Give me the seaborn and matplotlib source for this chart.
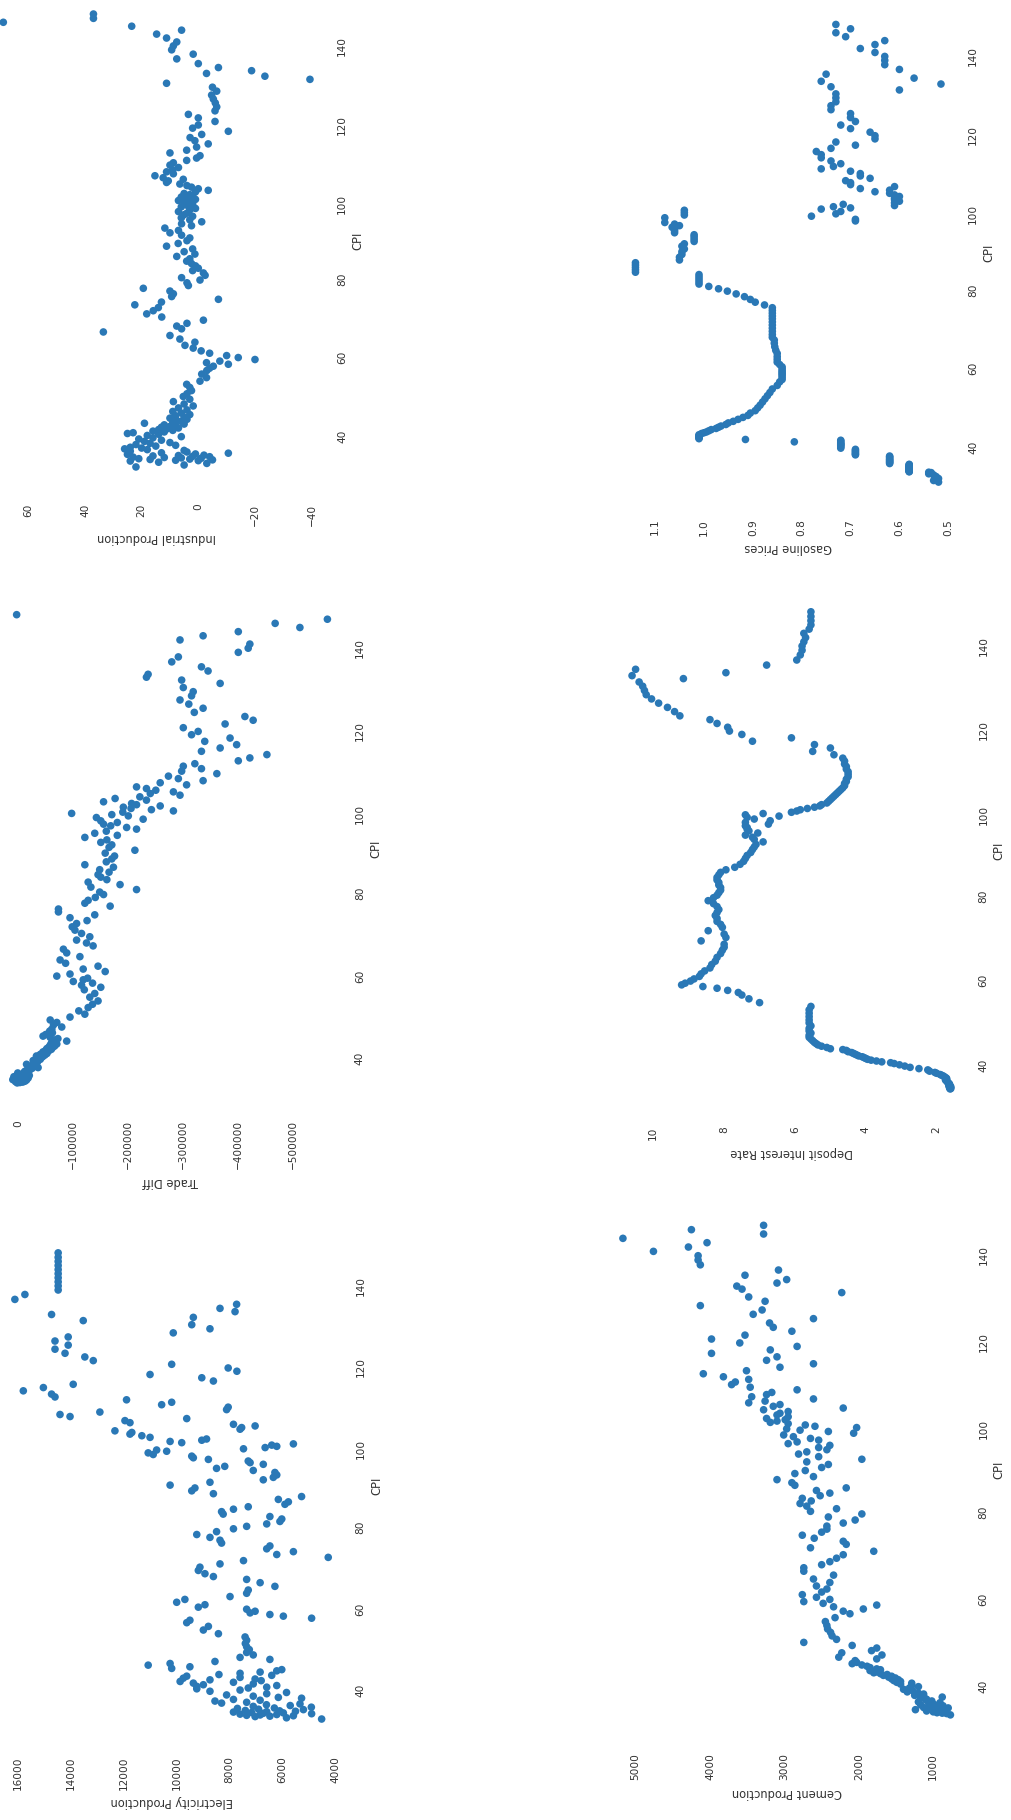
import matplotlib
matplotlib.use("Agg")
import matplotlib.pyplot as plt
import pandas as pd
import seaborn as sns

NA = float("nan")

# ---------------------------------------------------------------------------
# Monthly macro indicators against the consumer price index
# (NA marks months where a series was not yet reported)
# ---------------------------------------------------------------------------
cpi = [
    30.6, 31.0, 31.5, 32.0, 32.4, 32.7, 33.0, 33.1, 33.2, 33.3,
    33.4, 33.5, 33.6, 33.7, 33.8, 33.9, 34.0, 34.1, 34.2, 34.3,
    34.4, 34.5, 34.7, 34.8, 35.0, 35.1, 35.3, 35.5, 35.7, 35.9,
    36.1,
    36.3, 36.5, 36.8, 37.0, 37.2, 37.5, 37.7, 38.0, 38.3, 38.6,
    38.9, 39.2, 39.5, 39.8,
    40.0, 40.2, 40.4, 40.6, 40.8, 41.0, 41.2, 41.4, 41.6, 41.8,
    42.0, 42.2, 42.4, 42.6, 42.9, 43.1, 43.3, 43.6, 43.9, 44.2,
    44.5, 44.8,
    45.2, 45.6, 46.0, 46.5, 47.0, 47.5, 48.1, 48.7, 49.4, 50.1,
    50.9, 51.7, 52.5, 53.3, 54.2, 55.1,
    56.0, 56.6, 57.1, 57.6, 58.0, 58.4, 58.8, 59.3, 59.8, 60.4,
    61.0, 61.7, 62.4, 63.2, 64.0, 64.9,
    65.8, 66.6, 67.3, 68.0, 68.8, 69.6, 70.4, 71.2, 72.0, 72.7,
    73.4, 74.1, 74.8, 75.5,
    76.2, 76.9, 77.6, 78.3, 79.0, 79.6, 80.2, 80.8, 81.4, 82.0,
    82.6, 83.2, 83.8, 84.4, 85.0, 85.6, 86.2, 86.9, 87.6, 88.3,
    89.0, 89.7,
    90.4, 91.0, 91.6, 92.2, 92.8, 93.3, 93.8, 94.3, 94.8, 95.2,
    95.6, 96.0, 96.4, 96.8, 97.2, 97.6, 98.0, 98.3, 98.6, 98.9,
    99.2, 99.5, 99.8, 100.1, 100.4, 100.7,
    101.0, 101.4, 101.8, 102.2, 102.6, 103.0, 103.4, 103.8, 104.2, 104.6,
    105.0, 105.5, 106.0, 106.5, 107.0, 107.6, 108.2, 108.8, 109.4, 110.0,
    110.6, 111.3,
    112.0, 112.8, 113.6, 114.4, 115.2, 116.0, 116.8, 117.6, 118.4, 119.3,
    120.2, 121.1,
    122.0, 123.0, 124.0, 125.0, 126.0, 127.0, 128.0, 129.0, 130.0, 130.8,
    131.5, 132.2, 133.0, 134.0,
    135.2, 136.4, 137.5, 138.5, 139.5, 140.5, 141.5, 142.5, 143.5, 144.5,
    145.5, 146.6,
]

industrial_production = [
    NA, NA, 22, 5, -3, 14, 24, 0, 8, -5,
    17, 3, 21, -1, 6, 12, 23, -4, 2, 16,
    7, -2, 25, 1, -10.6, 13, 4, 24, 5, 18,
    26,
    20, 24, 15, 8, 22, 17, 10, 19, 13, 21,
    16, 6, 18, 14,
    25, 23, 12, 16, 9, 14, 11, 7, 13, 10,
    8, 12, 5, 19, 9, 6, 7.6, 4, 10, 5,
    8, 3,
    6, 9, 4, 7, 1.8, 5, 8.8, 3, 5.3, 4,
    2.4, 3, 4.1, -0.6, -2.9, -1.2,
    -3, -4, -5.3, -10.6, -2.9, -7.6, -20, -14.1, -10, -4,
    -1, 1.8, 4.7, 1.2, 6.5, 10,
    33.5, 5.9, 7.6, 4, -1.8, 12.9, 18.2, 15.9, 14.1, 22.4,
    13, -7.1, 9.4, 8.8,
    10, 19.4, 3.5, 4, -0.6, 5.9, -2.4, -1.8, 2, 0,
    1, 2.4, 4.1, 3, 7.6, 1.2, 5, 2, 11.2, 7.1,
    4, 3,
    5.9, 10, 7, 11.8, 2.4, 5.9, -1.2, 3, 6, 2,
    5, 4, 7, 3, 1, 6, 4, 2, 5, 3,
    7, 1, 4, 6, 2, 3,
    5, 1, -3.5, 0, 2.4, 4, 6.5, 11.2, 10.6, 5.3,
    12.4, 15.3, 8.8, 11.2, 9, 7, 10, 8.8, 4.1, 0.6,
    -0.6, 10,
    4.1, 0.6, -3.5, 1.2, 2.9, -1.2, -10.6, 2, 0, -5.9,
    0, 3.5,
    -5.9, -6.5, -6, -5.3, -4.7, -6.5, -5, 11.2, -39.4, -23.5,
    -2.9, -18.8, -7.1, 0,
    7.6, 1.8, 9.4, 8.8, 7.6, 11.2, 14.7, 5.9, 23.5, 68.8,
    37, 37,
]

gasoline_prices = [
    0.52, 0.53, 0.52, 0.525, 0.53, 0.54, 0.535, 0.54, 0.58, 0.58,
    0.58, 0.58, 0.58, 0.58, 0.58, 0.58, 0.58, 0.58, 0.58, 0.58,
    0.58, 0.58, 0.58, 0.58, 0.58, 0.58, 0.62, 0.62, 0.62, 0.62,
    0.62,
    0.62, 0.62, 0.62, 0.62, 0.62, 0.69, 0.69, 0.69, 0.69, 0.69,
    0.69, 0.72, 0.72, 0.72,
    0.72, 0.72, 0.72, 0.72, 0.815, 0.72, 0.72, 0.915, 1.01, 1.01,
    1.01, 1.01, 1.01, 1.01, 1.005, 1.00, 0.995, 0.99, 0.985, 0.975,
    0.97, 0.965,
    0.955, 0.95, 0.94, 0.93, 0.92, 0.91, 0.905, 0.895, 0.89, 0.885,
    0.88, 0.875, 0.87, 0.865, 0.86, 0.85,
    0.845, 0.84, 0.84, 0.84, 0.84, 0.84, 0.84, 0.84, 0.84, 0.845,
    0.85, 0.85, 0.85, 0.85, 0.853, 0.855,
    0.856, 0.856, 0.86, 0.86, 0.86, 0.86, 0.86, 0.86, 0.86, 0.86,
    0.86, 0.86, 0.86, 0.876,
    0.895, 0.905, 0.917, 0.934, 0.952, 0.97, 0.99, 1.01, 1.01, 1.01,
    1.01, 1.01, 1.14, 1.14, 1.14, 1.14, 1.14, 1.05, 1.05, 1.045,
    1.045, 1.04,
    1.045, 1.04, 1.02, 1.02, 1.02, 1.02, 1.06, 1.06, 1.06, 1.065,
    1.05, 1.06, 1.08, 0.69, 0.69, 1.08, 0.78, 1.04, 0.73, 1.04,
    0.72, 1.04, 0.76, 0.70, 0.735, 0.61,
    0.715, 0.61, 0.60, 0.61, 0.61, 0.60, 0.61, 0.62, 0.65, 0.62,
    0.68, 0.61, 0.70, 0.70, 0.71, 0.66, 0.68, 0.68, 0.70, 0.76,
    0.735, 0.72,
    0.74, 0.76, 0.76, 0.77, 0.74, 0.69, 0.73, 0.65, 0.65, 0.66,
    0.70, 0.72,
    0.69, 0.70, 0.70, 0.74, 0.74, 0.73, 0.73, 0.73, 0.60, 0.74,
    0.515, 0.76, 0.57, 0.75,
    0.60, 0.63, 0.63, 0.63, 0.65, 0.68, 0.65, 0.63, 0.71, 0.73,
    0.70, 0.73,
]

trade_diff = [
    NA, NA, NA, NA, NA, NA, NA, NA, NA, NA,
    NA, 2000, -3000, -8000, 5000, -12000, 0, -6000, -15000, 10000,
    -10000, -2000, -18000, -5000, 8000, -9000, -20000, -4000, -14000, 1000,
    -11000,
    -12000, -20000, -17000, -25000, -36000, -22000, -30000, -15000, -28000, -35000,
    -27000, -40000, -33000, -44000,
    -33000, -48000, -40000, -52000, -45000, -45000, -55000, -50000, -60000, -52000,
    -62000, -56000, -66000, -58000, -70000, -60000, -64000, -88000, -67000, -72000,
    -58000, -45000,
    -50000, -62000, -57000, -61000, -79000, -64000, -70000, -58000, -94000, -121000,
    -110000, -127000, -135000, -145000, -130000, -139000,
    -120000, -150000, -115000, -135000, -100000, -118000, -126000, -70000, -94000, -158000,
    -118000, -145000, -86000, -76000, -112000, -88000,
    -82000, -136000, -124000, -106000, -130000, -115000, -103000, -98000, -106000, -125000,
    -94000, -139000, -73000, -73000,
    -167000, -121000, -127000, -140000, -155000, -148000, -215000, -132000, -185000, -127000,
    -161000, -150000, -145000, -165000, -148000, -173000, -121000, -160000, -170000, -175000,
    -158000, -212000,
    -165000, -170000, -150000, -161000, -121000, -180000, -139000, -160000, -215000, -197000,
    -168000, -155000, -180000, -150000, -227000, -142000, -200000, -170000, -97000, -190000,
    -282000, -242000, -205000, -191000, -258000, -215000,
    -206000, -155000, -233000, -176000, -221000, -294000, -240000, -282000, -250000, -233000,
    -215000, -306000, -258000, -336000, -291000, -273000, -361000, -297000, -333000, -300000,
    -321000, -400000,
    -421000, -452000, -333000, -367000, -397000, -339000, -385000, -315000, -327000, -300000,
    -376000, -427000,
    -412000, -320000, -336000, -310000, -294000, -315000, -318000, -300000, -367000, -297000,
    -233000, -236000, -345000, -333000,
    -279000, -291000, -400000, -418000, -421000, -294000, -336000, -400000, -512000, -467000,
    -562000, 3000,
]

deposit_interest_rate = [
    NA, NA, NA, NA, NA, NA, NA, NA, NA, NA,
    NA, NA, NA, NA, 1.62, 1.60, 1.63, 1.61, 1.64, 1.60,
    1.62, 1.65, 1.63, 1.66, 1.64, 1.66, 1.68, 1.70, 1.72, 1.75,
    1.72,
    1.72, 1.75, 1.80, 1.85, 1.90, 2.00, 2.05, 2.20, 2.25, 2.50,
    2.75, 2.90, 3.05, 3.20,
    3.30, 3.55, 3.70, 3.85, 3.95, 4.00, 4.05, 4.10, 4.20, 4.25,
    4.30, 4.35, 4.40, 4.50, 4.55, 4.65, 5.00, 5.10, 5.25, 5.35,
    5.40, 5.45,
    5.50, 5.55, 5.60, 5.60, 5.55, 5.60, 5.60, 5.55, 5.60, 5.60,
    5.60, 5.60, 5.60, 5.55, 7.00, 7.30,
    7.50, 7.60, 7.90, 8.20, 8.60, 9.20, 9.10, 8.95, 8.85, 8.70,
    8.65, 8.55, 8.40, 8.35, 8.25, 8.20,
    8.10, 8.05, 8.00, 8.00, 8.65, 7.95, 8.00, 8.45, 8.05, 8.10,
    8.20, 8.20, 8.25, 8.20,
    8.15, 8.20, 8.30, 8.45, 8.30, 8.20, 8.15, 8.10, 8.10, 8.15,
    8.15, 8.20, 8.20, 8.15, 8.10, 7.95, 7.70, 7.55, 7.45, 7.40,
    7.35, 7.25,
    7.20, 7.15, 7.10, 6.90, 7.15, 7.20, 7.40, 7.05, 7.30, 7.35,
    7.35, 7.40, 6.75, 7.40, 6.70, 7.15, 7.35, 6.45, 7.40, 6.90,
    6.10, 5.95, 5.85, 5.65, 5.45, 5.30,
    5.25, 5.10, 5.05, 5.00, 4.95, 4.90, 4.85, 4.80, 4.75, 4.70,
    4.65, 4.60, 4.60, 4.55, 4.55, 4.50, 4.50, 4.50, 4.55, 4.55,
    4.60, 4.60,
    4.65, 4.90, 5.50, 5.00, 5.45, 7.20, 6.10, 7.50, 7.85, 7.90,
    8.20, 8.40,
    9.25, 9.40, 9.60, 9.85, 10.05, 10.20, 10.25, 10.30, 10.40, 9.15,
    10.60, 7.95, 10.50, 6.80,
    5.95, 5.85, 5.80, 5.80, 5.75, 5.70, 5.75, 5.60, 5.55, 5.55,
    5.55, 5.55,
]

electricity_production = [
    NA, NA, NA, NA, 4510, 5840, 7030, 6470, 5580, 7350,
    6840, 6210, 7600, 4890, 6720, 5960, 7160, 7850, 6590, 5500,
    6100, 7400, 5200, 6900, 7700, 6300, 4900, 7100, 5700, 6600,
    5330,
    8300, 7350, 8550, 6840, 7850, 5270, 6150, 7100, 8110, 6590,
    5840, 8740, 7600, 9240,
    7290, 6590, 9240, 6210, 8990, 7100, 9370, 7850, 9870, 6800,
    8740, 7030, 9750, 7600, 9620, 6400, 8400, 7600, 6840, 6210,
    6020, 10190,
    9500, 11080, 10250, 8550, 6470, 7600, 7100, 7350, 7250, 7350,
    7400, 7350, 7410, 8420, 8990, 8800,
    9620, 9500, 4890, 5960, 6470, 7220, 7030, 7350, 9180, 8930,
    10000, 9690, 7980, 7350, 7290, 6280,
    6840, 7350, 8610, 8930, 9180, 9120, 8360, 7470, 4260, 6210,
    5580, 6590, 6470, 8300,
    8360, 8740, 9240, 8490, 7850, 7350, 6590, 6090, 6020, 6470,
    8240, 8300, 7850, 7290, 5900, 5770, 6150, 5270, 8610, 9430,
    9310, 10250,
    8740, 6720, 6340, 6210, 6280, 7100, 8490, 8180, 6720, 7220,
    7290, 8800, 9370, 9430, 10890, 11080, 10380, 10760, 7470, 6650,
    6210, 6400, 5580, 9810, 10250, 9050,
    8870, 11010, 11320, 11770, 11700, 12340, 7600, 7540, 7030, 7850,
    11770, 11960, 9620, 14040, 14420, 12910, 8110, 8050, 10570, 10190,
    11900, 14610,
    14740, 15810, 15050, 13920, 8610, 9050, 11010, 7720, 8050, 10190,
    13160, 13480,
    14230, 14610, 14110, 14610, 14110, 10130, 8740, 9430, 13540, 9370,
    14740, 7790, 8360, 7730,
    16130, 15750, 14490, 14490, 14490, 14490, 14490, 14490, 14490, 14490,
    14490, 14490,
]

cement_production = [
    NA, NA, NA, NA, NA, 770, 820, 880, 950, 860,
    1000, 900, 1090, 840, 920, 1240, 960, 880, 1050, 800,
    1130, 930, 1000, 870, 1170, 990, 1060, 910, 1200, 1020,
    1100,
    1090, 1170, 880, 1130, 1250, 1130, 1200, 1350, 1280, 1400,
    1320, 1200, 1290, 1440,
    1290, 1490, 1440, 1530, 1470, 1560, 1510, 1600, 1560, 1670,
    1620, 1710, 1800, 1760, 1850, 1710, 1760, 1850, 1890, 1960,
    2090, 2030,
    2050, 1760, 2270, 1690, 2230, 1830, 1760, 2090, 2740, 2300,
    2360, 2380, 2420, 2430, 2450, 2320,
    2120, 2210, 1940, 2340, 1760, 2480, 2740, 2390, 2570, 2760,
    2500, 2430, 2570, 2390, 2610, 2340,
    2740, 2740, 2500, 2390, 2300, 2210, 1800, 2650, 2170, 2210,
    2600, 2760, 2500, 2430,
    2430, 2210, 2050, 2410, 1960, 2650, 2300, 2700, 2790, 2640,
    2760, 2520, 2390, 2570, 2170, 2860, 2900, 3100, 2610, 2860,
    2720, 2500,
    2410, 2700, 1960, 2540, 2810, 2700, 2430, 2540, 2390, 2950,
    2830, 2540, 2650, 2880, 3010, 2070, 2410, 2790, 2970, 2030,
    2590, 2720, 2950, 3190, 3100, 2990,
    3240, 2950, 3100, 3060, 2950, 3280, 2210, 3150, 3060, 3480,
    3260, 2610, 3440, 3240, 3170, 2830, 3460, 3710, 3660, 3480,
    3820, 4090,
    3510, 3060, 2610, 3240, 3100, 3980, 3190, 2830, 3600, 3980,
    3530, 2900,
    3150, 3200, 2610, 3420, 3300, 4130, 3260, 3480, 2230, 3570,
    3640, 3100, 2970, 3530,
    3080, 4130, 4160, 4160, 4760, 4290, 4040, 5170, 3280, 4250,
    3280, NA,
]

df = pd.DataFrame({
    "CPI": cpi,
    "Industrial Production": industrial_production,
    "Gasoline Prices": gasoline_prices,
    "Trade Diff": trade_diff,
    "Deposit Interest Rate": deposit_interest_rate,
    "Electricity Production": electricity_production,
    "Cement Production": cement_production,
})

# Panel placement on the page, in pixels.  Each panel is laid out on its
# side: the CPI axis runs upward on the right, the indicator runs right-to-left
# along the bottom.  x_ref = (value, pixel column), x_px = pixels per unit,
# y140 = pixel row of CPI 140, y_px = pixels per CPI point.
layout = {
    "Industrial Production":  dict(x_ref=(0.0, 198.3),    x_px=2.834,   y140=40.0,   y_px=3.935),
    "Gasoline Prices":        dict(x_ref=(1.0, 703.9),    x_px=488.8,   y140=50.5,   y_px=3.945),
    "Trade Diff":             dict(x_ref=(0.0, 18.3),     x_px=0.00055, y140=642.0,  y_px=4.14),
    "Deposit Interest Rate":  dict(x_ref=(10.0, 653.3),   x_px=35.42,   y140=639.7,  y_px=4.23),
    "Electricity Production": dict(x_ref=(16000.0, 18.3), x_px=0.0264,  y140=1279.8, y_px=4.082),
    "Cement Production":      dict(x_ref=(1000.0, 933.3), x_px=0.07443, y140=1249.2, y_px=4.34),
}

sns.set_theme(style="white")
plt.rcParams["font.family"] = ["DejaVu Sans"]

POINT_COLOR = "#2a78b6"
TEXT_COLOR = "#333333"

W, H = 1011, 1820
fig = plt.figure(figsize=(W / 100, H / 100), dpi=100)
fig.patch.set_facecolor("white")

for name, geo in layout.items():
    ax = fig.add_axes([0, 0, 1, 1])
    sns.scatterplot(data=df, x=name, y="CPI", ax=ax, color=POINT_COLOR,
                    s=30, linewidth=0, edgecolor="none")
    ax.invert_xaxis()

    # place the axes so that the data scale lands on the page as laid out
    hi, lo = ax.get_xlim()
    v0, x0 = geo["x_ref"]
    left = x0 + (v0 - hi) * geo["x_px"]
    right = x0 + (v0 - lo) * geo["x_px"]
    y_lo, y_hi = ax.get_ylim()
    top = geo["y140"] + (140 - y_hi) * geo["y_px"]
    bottom = geo["y140"] + (140 - y_lo) * geo["y_px"]
    ax.set_position([left / W, 1 - bottom / H, (right - left) / W, (bottom - top) / H])

    ax.yaxis.tick_right()
    ax.yaxis.set_label_position("right")
    ax.tick_params(axis="x", length=0, pad=10, labelrotation=90,
                   labelsize=7.6, labelcolor=TEXT_COLOR)
    ax.tick_params(axis="y", length=0, pad=8.5, labelrotation=90,
                   labelsize=7.6, labelcolor=TEXT_COLOR,
                   right=True, left=False, labelright=True, labelleft=False)

    ax.set_xlabel(name, rotation=180, fontsize=8.3, color=TEXT_COLOR, labelpad=4)
    ax.set_ylabel("CPI", rotation=90, fontsize=8.3, color=TEXT_COLOR, labelpad=3)

    for spine in ax.spines.values():
        spine.set_visible(False)
    ax.grid(False)

fig.savefig("out.png", dpi=100, facecolor="white")
